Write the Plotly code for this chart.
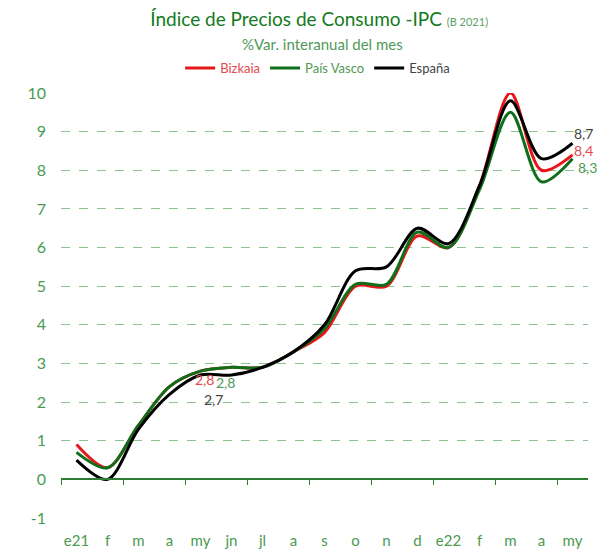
import plotly.graph_objects as go

months = ["e21", "f", "m", "a", "my", "jn", "jl", "a", "s", "o", "n", "d",
          "e22", "f", "m", "a", "my"]
bizkaia = [0.9, 0.3, 1.4, 2.4, 2.8, 2.9, 2.9, 3.3, 3.8, 5.0, 5.0, 6.3, 6.0, 7.6, 10.0, 8.0, 8.4]
pais_vasco = [0.7, 0.3, 1.4, 2.4, 2.8, 2.9, 2.9, 3.3, 3.9, 5.05, 5.05, 6.4, 6.0, 7.5, 9.5, 7.7, 8.3]
espana = [0.5, 0.0, 1.3, 2.2, 2.7, 2.7, 2.9, 3.3, 4.0, 5.4, 5.5, 6.5, 6.1, 7.6, 9.8, 8.3, 8.7]
y_ticks = list(range(-1, 11))

RED = "#e8161b"
GREEN = "#0f6e1a"
BLACK = "#000000"
LBL_RED = "#e8474b"
LBL_GREEN = "#4f9a58"
LBL_GRAY = "#444444"
AX_GREEN = "#4a9a52"

x = list(range(len(months)))
FONT = "Lato"

fig = go.Figure()
series = [
    ("Bizkaia", bizkaia, RED, LBL_RED),
    ("País Vasco", pais_vasco, GREEN, LBL_GREEN),
    ("España", espana, BLACK, LBL_GRAY),
]
for name, vals, col, lcol in series:
    fig.add_trace(go.Scatter(
        x=x, y=vals, mode="lines", line=dict(color=col, width=3, shape="spline", smoothing=0.9),
        name=f'<span style="color:{lcol}">{name}</span>', hoverinfo="skip"))

# invisible trace to host the zero axis
fig.add_trace(go.Scatter(x=[x[0], x[-1]], y=[0, 0], xaxis="x2", mode="lines",
                         line=dict(width=0), showlegend=False, hoverinfo="skip"))

def fmt(v):
    return f"{v:.1f}".replace(".", ",")

ann = []
i = 4
ann.append(dict(x=i, y=bizkaia[i], text=fmt(bizkaia[i]), font=dict(color=LBL_RED), xshift=4, yshift=-8))
ann.append(dict(x=i, y=pais_vasco[i], text=fmt(pais_vasco[i]), font=dict(color=LBL_GREEN), xshift=25, yshift=-11))
ann.append(dict(x=i, y=espana[i], text=fmt(espana[i]), font=dict(color=LBL_GRAY), xshift=13, yshift=-24))
j = len(months) - 1
ann.append(dict(x=j, y=espana[j], text=fmt(espana[j]), font=dict(color=LBL_GRAY), xshift=11, yshift=10))
ann.append(dict(x=j, y=bizkaia[j], text=fmt(bizkaia[j]), font=dict(color=LBL_RED), xshift=11, yshift=4))
ann.append(dict(x=j, y=pais_vasco[j], text=fmt(pais_vasco[j]), font=dict(color=LBL_GREEN), xshift=15, yshift=-9))
for a in ann:
    a.update(xref="x", yref="y", showarrow=False)
    a["font"].update(family=FONT, size=14)

# subtitle (plot area: top 93px, height 425px)
ann.append(dict(xref="paper", yref="paper", x=0.497, y=(518 - 44) / 425, yanchor="middle",
                showarrow=False, text="%Var. interanual del mes",
                font=dict(family=FONT, size=15, color="#4f9a58")))

fig.update_layout(
    width=608, height=550,
    margin=dict(l=61, r=20, t=93, b=32, autoexpand=False),
    paper_bgcolor="white", plot_bgcolor="white",
    font=dict(family=FONT, color=AX_GREEN),
    title=dict(text='Índice de Precios de Consumo -IPC <span style="font-size:11px;color:#5e9e64">(B 2021)</span>',
               x=0.525, xanchor="center", xref="container", y=1 - 19 / 550, yref="container",
               yanchor="middle", font=dict(family=FONT, size=19, color="#137a1d")),
    showlegend=True,
    legend=dict(orientation="h", x=0.487, xanchor="center", y=(518 - 68) / 425, yanchor="middle",
                font=dict(family=FONT, size=13), itemwidth=30, tracegroupgap=0,
                bgcolor="rgba(0,0,0,0)"),
    annotations=ann,
    xaxis=dict(range=[-0.5, len(months) - 0.5], tickmode="array", tickvals=x, ticktext=months,
               showgrid=False, zeroline=False, showline=False, ticks="", automargin=False,
               tickfont=dict(family=FONT, size=15, color=AX_GREEN), ticklabelstandoff=12),
    xaxis2=dict(range=[-0.5, len(months) - 0.5], overlaying="x", anchor="free",
                position=1 / 11, side="bottom", showline=True, linecolor="#2e7d32", linewidth=1.5,
                ticks="outside", ticklen=5, tickwidth=1.2, tickcolor="#2e7d32", automargin=False,
                tickmode="array", tickvals=[k - 0.5 for k in range(0, 17, 2)],
                showticklabels=False, showgrid=False, zeroline=False),
    yaxis=dict(range=[-1, 10], tickmode="array", tickvals=y_ticks,
               ticktext=[str(v) for v in y_ticks], automargin=False,
               showgrid=True, gridcolor="#8cc28f", griddash="dash", gridwidth=1,
               zeroline=False, showline=False,
               tickfont=dict(family=FONT, size=16, color=AX_GREEN), ticklabelstandoff=14),
)

fig.write_html("out.html", post_script="document.body.style.margin='0';",
               config={"displayModeBar": False})
